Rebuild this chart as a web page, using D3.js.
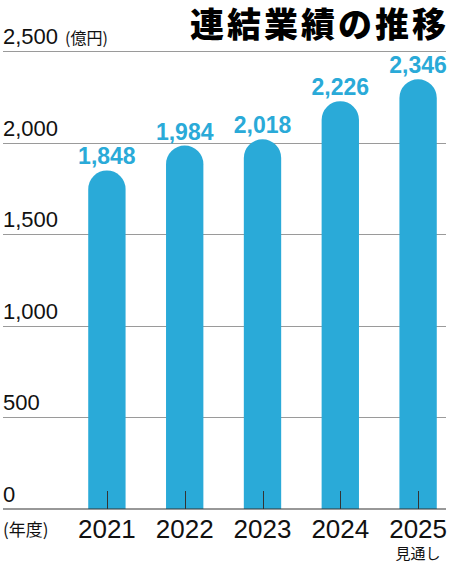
<!DOCTYPE html>
<html>
<head>
<meta charset="utf-8">
<script src="https://cdn.jsdelivr.net/npm/d3@7"></script>
<style>
  body { margin: 0; background: #fff; }
  svg { display: block; }
</style>
</head>
<body>
<svg id="chart" width="450" height="562"></svg>
<script>
// data
var years = ["2021", "2022", "2023", "2024", "2025"];
var sales = [1848, 1984, 2018, 2226, 2346];
var yTicks = [0, 500, 1000, 1500, 2000, 2500];

var W = 450, H = 562;
var svg = d3.select("#chart");
var latin = "Helvetica, Arial, 'Liberation Sans', sans-serif";
var cjk = "'Noto Sans CJK JP', sans-serif";
var blue = "#2aaad8";

var x = d3.scaleBand().domain(years).range([68, 457]).paddingInner(0.52).paddingOuter(0.26);
var y = d3.scaleLinear().domain([0, 2500]).range([509, 51]);

// gridlines
svg.append("g").selectAll("line")
  .data(yTicks.filter(function(d){ return d > 0; }))
  .enter().append("line")
  .attr("x1", 3).attr("x2", 446)
  .attr("y1", function(d){ return Math.round(y(d)) + 0.5; })
  .attr("y2", function(d){ return Math.round(y(d)) + 0.5; })
  .attr("stroke", "#9a9a9a").attr("stroke-width", 1);

// y labels
svg.append("g").selectAll("text")
  .data(yTicks)
  .enter().append("text")
  .attr("x", 3)
  .attr("y", function(d){ return y(d) - 7; })
  .attr("font-family", latin).attr("font-size", 22).attr("fill", "#111")
  .text(function(d){ return d3.format(",")(d); });

svg.append("text")
  .attr("x", 65).attr("y", y(2500) - 7)
  .attr("font-family", cjk).attr("font-size", 16).attr("fill", "#111")
  .text("(億円)");

// bars with rounded tops
var bw = x.bandwidth();
svg.append("g").selectAll("path")
  .data(sales)
  .enter().append("path")
  .attr("fill", blue)
  .attr("d", function(d, i){
    var x0 = x(years[i]), r = bw / 2, top = y(d), bot = y(0);
    return "M" + x0 + "," + bot + "V" + (top + r) +
      "A" + r + "," + r + " 0 0 1 " + (x0 + bw) + "," + (top + r) +
      "V" + bot + "Z";
  });

// tick marks inside the bars
svg.append("g").selectAll("line")
  .data(years)
  .enter().append("line")
  .attr("x1", function(d){ return Math.round(x(d) + bw / 2) + 0.5; })
  .attr("x2", function(d){ return Math.round(x(d) + bw / 2) + 0.5; })
  .attr("y1", y(0) - 18).attr("y2", y(0))
  .attr("stroke", "#333").attr("stroke-width", 1);

// baseline
svg.append("line")
  .attr("x1", 3).attr("x2", 446)
  .attr("y1", y(0)).attr("y2", y(0))
  .attr("stroke", "#333").attr("stroke-width", 1.2);

// value labels
svg.append("g").selectAll("text")
  .data(sales)
  .enter().append("text")
  .attr("x", function(d, i){ return x(years[i]) + bw / 2; })
  .attr("y", function(d){ return y(d) - 6; })
  .attr("text-anchor", "middle")
  .attr("font-family", latin).attr("font-weight", "bold").attr("font-size", 23)
  .attr("fill", blue)
  .text(function(d){ return d3.format(",")(d); });

// x labels
svg.append("g").selectAll("text")
  .data(years)
  .enter().append("text")
  .attr("x", function(d){ return x(d) + bw / 2; })
  .attr("y", 538)
  .attr("text-anchor", "middle")
  .attr("font-family", latin).attr("font-size", 26).attr("fill", "#111")
  .text(function(d){ return d; });

svg.append("text")
  .attr("x", 3).attr("y", 536)
  .attr("font-family", cjk).attr("font-size", 17).attr("fill", "#111")
  .text("(年度)");

svg.append("text")
  .attr("x", x("2025") + bw / 2).attr("y", 559)
  .attr("text-anchor", "middle")
  .attr("font-family", cjk).attr("font-size", 15).attr("fill", "#111")
  .text("見通し");

// title
svg.append("text")
  .attr("x", 449).attr("y", 37)
  .attr("text-anchor", "end")
  .attr("font-family", cjk).attr("font-weight", 900).attr("font-size", 34)
  .attr("letter-spacing", 3)
  .attr("fill", "#000")
  .text("連結業績の推移");
</script>
</body>
</html>
